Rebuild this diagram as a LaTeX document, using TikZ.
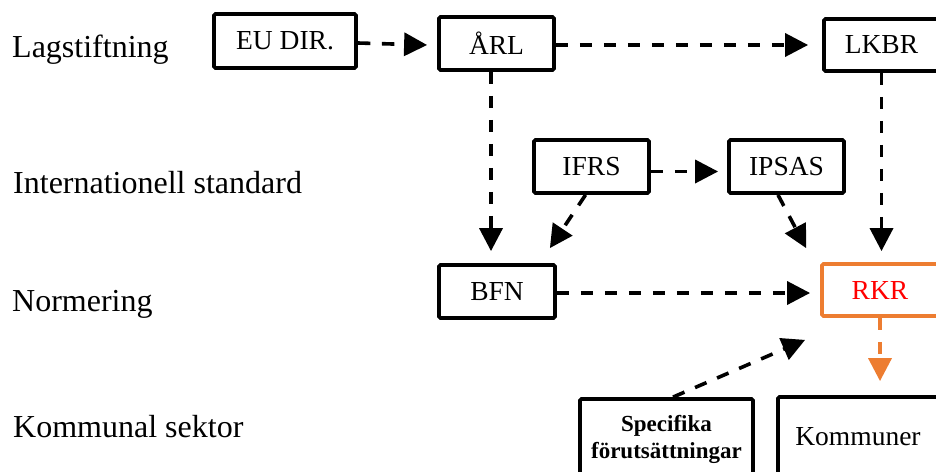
\documentclass[tikz,border=0pt]{standalone}
\usepackage{fontspec}
\setmainfont{Liberation Serif}
\usetikzlibrary{arrows.meta}
\definecolor{orng}{HTML}{ED7D31}
\begin{document}
\begin{tikzpicture}[x=1pt,y=-1pt,
 box/.style={draw,line width=3.8pt,rounded corners=1.5pt,inner sep=0pt,font=\fontsize{27.5}{30}\selectfont},
 lbl/.style={anchor=base west,inner sep=0pt,font=\fontsize{32}{36}\selectfont},
 conn/.style={line width=3.6pt,dash pattern=on 12.5pt off 11.5pt,-{Triangle[length=23pt,width=23pt]}},
]
\clip (0,0) rectangle (936,471);
\useasboundingbox (0,0) rectangle (936,471);

\node[lbl] (l1) at (12,57) {Lagstiftning};
\node[lbl] (l2) at (13,193) {Internationell standard};
\node[lbl] (l3) at (12,311) {Normering};
\node[lbl] (l4) at (13,437) {Kommunal sektor};

\node[box,minimum width=142pt,minimum height=54pt] (eu) at (285,41) {EU DIR.};
\node[box,minimum width=115pt,minimum height=53pt] (arl) at (496.5,43.5) {ÅRL};
\node[box,minimum width=115pt,minimum height=52pt] (lkbr) at (881.5,45) {LKBR};
\node[box,minimum width=115pt,minimum height=53pt] (ifrs) at (591.5,166.5) {IFRS};
\node[box,minimum width=115pt,minimum height=53pt] (ipsas) at (786.5,166.5) {IPSAS};
\node[box,minimum width=116pt,minimum height=53pt] (bfn) at (497,291.5) {BFN};
\node[box,draw=orng,text=red,minimum width=116pt,minimum height=52pt] (rkr) at (880,290) {RKR};
\node[box,minimum width=173pt,minimum height=80pt,align=center,font=\fontsize{23}{27}\selectfont\bfseries] (spec) at (666.5,439) {Specifika\\förutsättningar};
\node[box,minimum width=160pt,minimum height=80pt] (komm) at (858,437) {Kommuner};

\draw[conn] ([yshift=-2pt]eu.east) -- ([xshift=-10pt,yshift=-1.5pt]arl.west);
\draw[conn] ([yshift=-1.5pt]arl.east) -- ([xshift=-14pt,yshift=-1.5pt]lkbr.west |- arl.east);
\draw[conn] ([xshift=-5.5pt]arl.south) -- ([xshift=-6pt,yshift=12pt]bfn.north);
\draw[conn] (lkbr.south) -- ([yshift=11pt]lkbr.south |- rkr.north);
\draw[conn] ([yshift=-5pt]ifrs.east) -- ([yshift=-5pt,xshift=-9pt]ipsas.west);
\draw[conn] ([xshift=-6pt]ifrs.south) -- ([xshift=-7pt,yshift=15pt]bfn.north east);
\draw[conn] ([xshift=-8.5pt]ipsas.south) -- ([xshift=-14pt,yshift=14pt]rkr.north west);
\draw[conn] ([yshift=-1.5pt]bfn.east) -- ([xshift=-10pt,yshift=-1.5pt]rkr.west |- bfn.east);
\draw[conn] ([xshift=6.5pt]spec.north) -- ([xshift=-15pt,yshift=-22pt]rkr.south west);
\draw[conn,orng] (rkr.south) -- ([yshift=14pt]rkr.south |- komm.north);
\end{tikzpicture}
\end{document}
